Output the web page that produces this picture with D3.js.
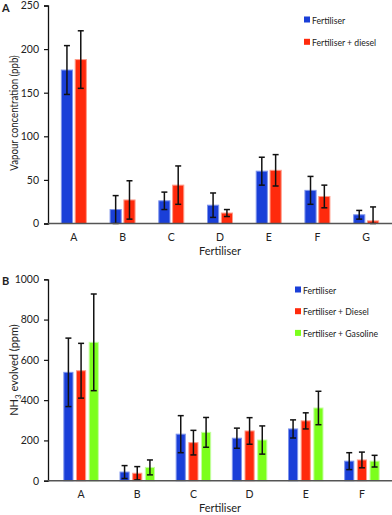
<!DOCTYPE html>
<html lang="en">
<head>
<meta charset="UTF-8">
<script src="https://cdn.jsdelivr.net/npm/d3@7"></script>
<title>Fertiliser charts</title>
<style>
body { margin: 0; background: #fff; }
svg text { font-family: Lato, "Open Sans", sans-serif; fill: #222; }
</style>
</head>
<body>
<svg id="chart" width="392" height="515"></svg>
<script>
// panel A data
let catsA = ['A', 'B', 'C', 'D', 'E', 'F', 'G']
let seriesA = ['Fertiliser', 'Fertiliser + diesel']
let fertA = [176, 16, 26, 21, 60, 38, 10]
let fertAErr = [28, 16, 10, 14, 16, 16, 5]
let dieselA = [188, 27, 44, 12, 61, 31, 3]
let dieselAErr = [33, 22, 22, 4, 18, 13, 16]
let ticksA = [0, 50, 100, 150, 200, 250]

// panel B data
let catsB = ['A', 'B', 'C', 'D', 'E', 'F']
let seriesB = ['Fertiliser', 'Fertiliser + Diesel', 'Fertiliser + Gasoline']
let fertB = [538, 43, 231, 211, 257, 97]
let fertBErr = [170, 32, 92, 50, 45, 42]
let dieselB = [546, 37, 189, 247, 297, 103]
let dieselBErr = [136, 33, 61, 66, 40, 39]
let gasB = [687, 66, 240, 202, 361, 97]
let gasBErr = [240, 37, 74, 70, 83, 29]
let ticksB = [0, 200, 400, 600, 800, 1000]

let colors = ['#1a3fd8', '#ff2a0c', '#7cff1c']
let edge = ['#7f95ec', '#ff9c8a', '#c4ffa0']

let svg = d3.select('#chart')

// squeeze a text horizontally (reference font is narrower than Lato)
function squeeze(t, k) {
	let w = t.node().getComputedTextLength()
	t.attr('textLength', w * k).attr('lengthAdjust', 'spacingAndGlyphs')
}

function panel(o) {
	let g = svg.append('g')
	let x = d3.scaleBand().domain(o.cats).range(o.xr)
	let xs = d3.scaleBand().domain(d3.range(o.vals.length)).range([0, o.gw]).paddingInner(o.pin)
	let y = d3.scaleLinear().domain([0, o.max]).range(o.yr)

	// bars + error bars
	o.vals.forEach((vals, si) => {
		let bg = g.append('g')
		o.cats.forEach((c, i) => {
			let bx = x(c) + x.bandwidth() / 2 - o.gw / 2 + xs(si)
			let v = vals[i], e = o.errs[si][i]
			bg.append('rect')
				.attr('x', bx + 0.5)
				.attr('y', y(v))
				.attr('width', xs.bandwidth() - 1)
				.attr('height', y(0) - y(v))
				.attr('fill', colors[si])
				.attr('stroke', edge[si])
				.attr('stroke-width', 1)
			let cx = bx + xs.bandwidth() / 2
			let lo = Math.max(0, v - e), hi = v + e
			bg.append('line').attr('x1', cx).attr('x2', cx).attr('y1', y(hi)).attr('y2', y(lo))
				.attr('stroke', '#111').attr('stroke-width', 1.5)
			;[hi, lo].forEach(t => {
				bg.append('line').attr('x1', cx - 3).attr('x2', cx + 3).attr('y1', y(t)).attr('y2', y(t))
					.attr('stroke', '#111').attr('stroke-width', 1.5)
			})
		})
	})

	// y axis
	let ya = g.append('g')
		.attr('transform', `translate(${o.ax},0)`)
		.call(d3.axisLeft(y).tickValues(o.ticks).tickFormat(d3.format('d')).tickSize(4).tickPadding(5))
	ya.select('.domain').attr('stroke', '#111').attr('stroke-width', 1.3)
	ya.selectAll('.tick line').attr('stroke', '#111').attr('stroke-width', 1.2)
	ya.selectAll('text').attr('font-size', 10.5).attr('fill', '#222')

	// x axis line + labels
	g.append('line').attr('x1', o.ax).attr('x2', 392).attr('y1', y(0)).attr('y2', y(0))
		.attr('stroke', '#555').attr('stroke-width', 1.6)
	o.cats.forEach(c => {
		g.append('text').attr('x', x(c) + x.bandwidth() / 2).attr('y', y(0) + 17)
			.attr('text-anchor', 'middle').attr('font-size', 10.5).text(c)
	})
	g.append('text').attr('x', 220).attr('y', y(0) + 31)
		.attr('text-anchor', 'middle').attr('font-size', 11).text('Fertiliser')

	// y title
	let yt = g.append('text')
		.attr('transform', `translate(18,${o.ty}) rotate(-90)`)
		.attr('text-anchor', 'middle').attr('font-size', 11)
	o.ytitle(yt)

	// panel letter
	g.append('text').attr('x', 2).attr('y', o.yr[1] + 6)
		.attr('font-size', 11).attr('font-weight', 'bold').text(o.letter)

	// legend
	o.series.forEach((s, si) => {
		let ly = o.ly + si * o.lstep
		g.append('rect').attr('x', o.lx).attr('y', ly - 3.5).attr('width', 6).attr('height', 6)
			.attr('fill', colors[si])
		let t = g.append('text').attr('x', o.lx + 8).attr('y', ly + 3.5)
			.attr('font-size', 9.6).text(s)
		squeeze(t, 0.9)
	})
}

panel({
	letter: 'A', cats: catsA, series: seriesA,
	vals: [fertA, dieselA], errs: [fertAErr, dieselAErr],
	max: 250, ticks: ticksA,
	xr: [49.5, 390.5], yr: [223.5, 5.5], ax: 48, ty: 113,
	gw: 26, pin: 0.12,
	lx: 304, ly: 20, lstep: 22.3,
	ytitle: t => { t.text('Vapour concentration (ppb)'); squeeze(t, 0.88) }
})

panel({
	letter: 'B', cats: catsB, series: seriesB,
	vals: [fertB, dieselB, gasB], errs: [fertBErr, dieselBErr, gasBErr],
	max: 1000, ticks: ticksB,
	xr: [53, 390], yr: [480.7, 279.3], ax: 48, ty: 370,
	gw: 35.5, pin: 0.2,
	lx: 295, ly: 290, lstep: 21.7,
	ytitle: t => {
		t.append('tspan').text('NH')
		t.append('tspan').attr('font-size', 8).attr('dy', 3).text('3')
		t.append('tspan').attr('dy', -3).text(' evolved (ppm)')
	}
})
</script>
</body>
</html>
